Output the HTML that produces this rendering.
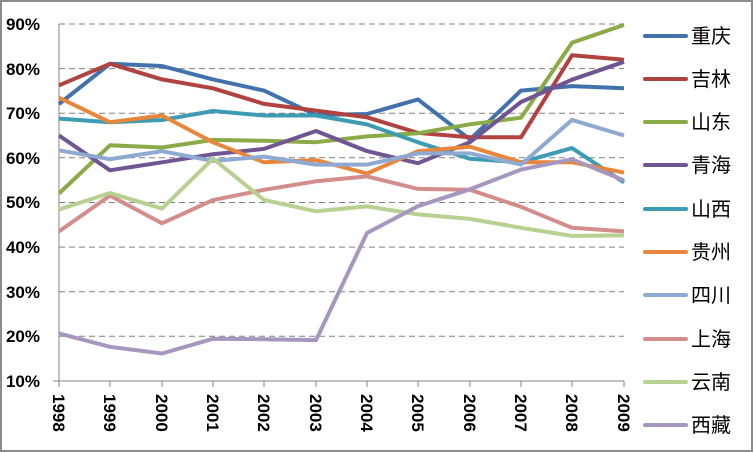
<!DOCTYPE html>
<html><head><meta charset="utf-8"><style>
html,body{margin:0;padding:0;background:#fff;}
svg{display:block;}
</style></head><body>
<svg width="753" height="452" xmlns="http://www.w3.org/2000/svg">
<rect x="1" y="1" width="751" height="450" fill="#fff" stroke="#8c8c8c" stroke-width="2"/>
<g stroke="#808080" stroke-width="1" stroke-dasharray="6,4">
<line x1="59" y1="24" x2="624" y2="24"/><line x1="59" y1="68.6" x2="624" y2="68.6"/>
<line x1="59" y1="113.2" x2="624" y2="113.2"/><line x1="59" y1="157.8" x2="624" y2="157.8"/>
<line x1="59" y1="202.5" x2="624" y2="202.5"/><line x1="59" y1="247.1" x2="624" y2="247.1"/>
<line x1="59" y1="291.7" x2="624" y2="291.7"/><line x1="59" y1="336.3" x2="624" y2="336.3"/>
</g>
<g stroke="#868686" stroke-width="1">
<line x1="59" y1="24" x2="59" y2="387"/><line x1="53" y1="381" x2="624" y2="381"/>
<line x1="59" y1="381" x2="59" y2="387"/><line x1="110" y1="381" x2="110" y2="387"/><line x1="162" y1="381" x2="162" y2="387"/><line x1="213" y1="381" x2="213" y2="387"/><line x1="264" y1="381" x2="264" y2="387"/><line x1="316" y1="381" x2="316" y2="387"/><line x1="367" y1="381" x2="367" y2="387"/><line x1="418" y1="381" x2="418" y2="387"/><line x1="470" y1="381" x2="470" y2="387"/><line x1="521" y1="381" x2="521" y2="387"/><line x1="572" y1="381" x2="572" y2="387"/><line x1="624" y1="381" x2="624" y2="387"/>
</g>
<g font-family="Liberation Sans, sans-serif" font-weight="bold" font-size="17" fill="#000" text-anchor="end">
<text x="40" y="30">90%</text><text x="40" y="75">80%</text><text x="40" y="119">70%</text><text x="40" y="164">60%</text><text x="40" y="208">50%</text><text x="40" y="253">40%</text><text x="40" y="298">30%</text><text x="40" y="342">20%</text><text x="40" y="387">10%</text>
</g>
<g font-family="Liberation Sans, sans-serif" font-weight="bold" font-size="17" fill="#000">
<text transform="translate(53,394) rotate(90)">1998</text><text transform="translate(104,394) rotate(90)">1999</text><text transform="translate(156,394) rotate(90)">2000</text><text transform="translate(207,394) rotate(90)">2001</text><text transform="translate(258,394) rotate(90)">2002</text><text transform="translate(310,394) rotate(90)">2003</text><text transform="translate(361,394) rotate(90)">2004</text><text transform="translate(412,394) rotate(90)">2005</text><text transform="translate(464,394) rotate(90)">2006</text><text transform="translate(515,394) rotate(90)">2007</text><text transform="translate(566,394) rotate(90)">2008</text><text transform="translate(618,394) rotate(90)">2009</text>
</g>
<g fill="none" stroke-width="4" stroke-linejoin="round">
<polyline stroke="#4272ad" points="59,104 110,63.8 162,66 213,79.4 264,90.6 316,115 367,114 418,99.4 470,139.5 521,90.6 572,86.1 624,88.3"/>
<polyline stroke="#b04240" points="59,85.3 110,63.8 162,79.4 213,88.3 264,103.9 316,110.6 367,117.3 418,132.9 470,137.3 521,137.3 572,55.3 624,59.8"/>
<polyline stroke="#8aab48" points="59,193.5 110,145.3 162,147.5 213,139.9 264,140.8 316,142.2 367,136.4 418,133.2 470,124.3 521,117.7 572,42.7 624,24.9"/>
<polyline stroke="#6f5592" points="59,135.5 110,170.3 162,162.3 213,154.2 264,148.9 316,131 367,151.1 418,163.2 470,142.2 521,102 572,79.7 624,61.8"/>
<polyline stroke="#3d9bb4" points="59,118.6 110,122.2 162,120 213,111 264,115.5 316,115.5 367,124.4 418,142.3 470,158.8 521,162.3 572,148.1 624,182.4"/>
<polyline stroke="#e8873c" points="59,97.7 110,122.2 162,115.5 213,142.3 264,162.3 316,160.1 367,173.5 418,151.2 470,146.7 521,162.3 572,162.3 624,172.6"/>
<polyline stroke="#8eaad3" points="59,150.3 110,159.2 162,151.2 213,161 264,156.6 316,164.6 367,164.6 418,153.4 470,153.4 521,164.6 572,119.9 624,135.5"/>
<polyline stroke="#d38e8c" points="59,231.4 110,195.6 162,223.3 213,200.1 264,189.8 316,181.3 367,176.4 418,188.9 470,189.8 521,206.8 572,227.8 624,231.4"/>
<polyline stroke="#b8d191" points="59,209.5 110,193 162,208.6 213,158.6 264,200 316,211.3 367,206.4 418,214.4 470,218.9 521,227.8 572,235.9 624,235.4"/>
<polyline stroke="#a797bf" points="59,333.4 110,346.8 162,353.5 213,338.8 264,339.2 316,340.1 367,233 418,206.2 470,189.3 521,169.6 572,159.3 624,180.3"/>
</g>
<g stroke-width="4" stroke-linecap="round">
<line x1="645" y1="36" x2="686" y2="36" stroke="#4272ad"/>
<line x1="645" y1="79" x2="686" y2="79" stroke="#b04240"/>
<line x1="645" y1="122" x2="686" y2="122" stroke="#8aab48"/>
<line x1="645" y1="165" x2="686" y2="165" stroke="#6f5592"/>
<line x1="645" y1="209" x2="686" y2="209" stroke="#3d9bb4"/>
<line x1="645" y1="252" x2="686" y2="252" stroke="#e8873c"/>
<line x1="645" y1="295" x2="686" y2="295" stroke="#8eaad3"/>
<line x1="645" y1="339" x2="686" y2="339" stroke="#d38e8c"/>
<line x1="645" y1="382" x2="686" y2="382" stroke="#b8d191"/>
<line x1="645" y1="425" x2="686" y2="425" stroke="#a797bf"/>
</g>
<g font-family="Liberation Sans, 'Noto Sans CJK SC', sans-serif" font-size="20" fill="#000">
<text x="691" y="43">重庆</text><text x="691" y="86">吉林</text><text x="691" y="129">山东</text><text x="691" y="172">青海</text><text x="691" y="216">山西</text><text x="691" y="259">贵州</text><text x="691" y="302">四川</text><text x="691" y="346">上海</text><text x="691" y="389">云南</text><text x="691" y="432">西藏</text>
</g>
</svg>
</body></html>
